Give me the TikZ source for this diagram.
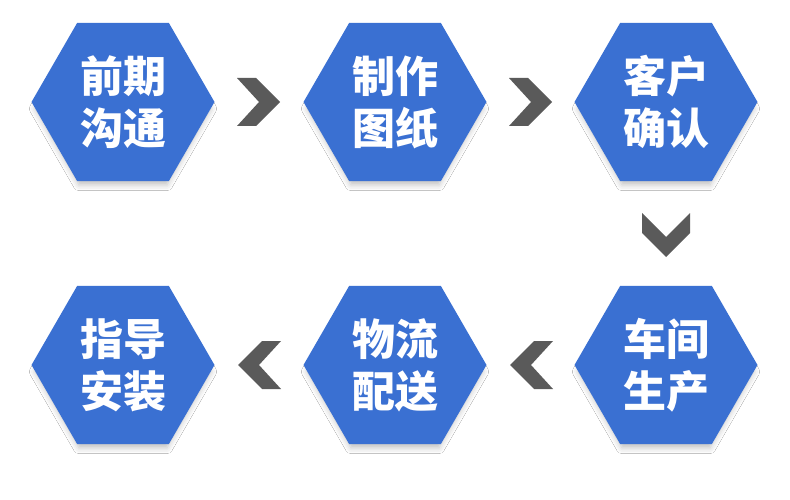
\documentclass[tikz,border=0pt]{standalone}
\usepackage{fontspec}
\newfontfamily\cjk{Noto Sans CJK SC}
\usetikzlibrary{shapes.geometric,shadows.blur}
\definecolor{hexblue}{RGB}{58,112,210}
\definecolor{chevgray}{RGB}{90,90,90}
\tikzset{
  hexbox/.style={regular polygon, regular polygon sides=6,
    minimum size=183pt, inner sep=0pt, fill=hexblue, draw=none,
    blur shadow={shadow xshift=0pt, shadow yshift=-7pt, shadow scale=0.96, shadow blur radius=6pt, shadow opacity=25},
    text=white, font=\cjk\bfseries\fontsize{43}{52}\selectfont, align=center},
  chev/.style={fill=chevgray, draw=none}
}
\begin{document}
\begin{tikzpicture}[x=1pt,y=-1pt]
\useasboundingbox (0,0) rectangle (790,500);
\fill[white] (0,0) rectangle (790,500);
\node[hexbox] (h1) at (123,102) {前期\\沟通};
\node[hexbox] (h2) at (395,102) {制作\\图纸};
\node[hexbox] (h3) at (666,102) {客户\\确认};
\node[hexbox] (h6) at (123,365) {指导\\安装};
\node[hexbox] (h5) at (395,365) {物流\\配送};
\node[hexbox] (h4) at (666,365) {车间\\生产};
% right chevrons
\foreach \cx/\cy in {259/102, 531/102}{
  \fill[chev] (\cx-22,\cy-24) -- (\cx-3,\cy-24) -- (\cx+21,\cy) -- (\cx-3,\cy+24) -- (\cx-22,\cy+24) -- (\cx+0,\cy) -- cycle;
}
% left chevrons
\foreach \cx/\cy in {259/365, 531/365}{
  \fill[chev] (\cx+22,\cy-24) -- (\cx+3,\cy-24) -- (\cx-21,\cy) -- (\cx+3,\cy+24) -- (\cx+22,\cy+24) -- (\cx-0,\cy) -- cycle;
}
% down chevron
\fill[chev] (642,213) -- (642,233) -- (666,257) -- (690,233) -- (690,213) -- (666,237) -- cycle;
\end{tikzpicture}
\end{document}
